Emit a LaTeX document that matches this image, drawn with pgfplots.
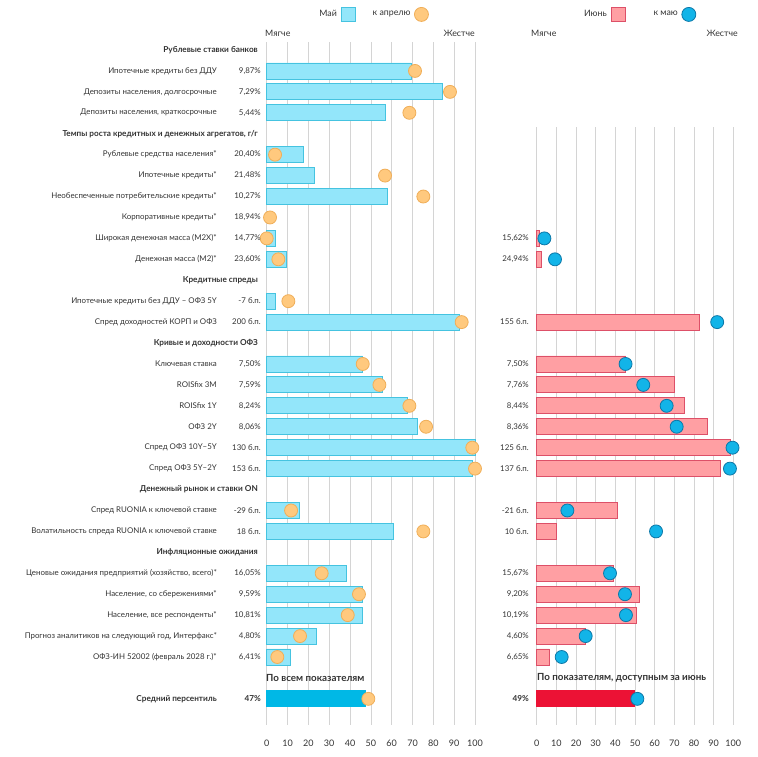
\documentclass[border=0pt]{standalone}
\usepackage{fontspec}
\setmainfont{Lato}
\usepackage{pgfplots}
\usepackage{pgfplotstable}
\pgfplotsset{compat=1.18}

\definecolor{txt}{HTML}{333333}
\definecolor{gridgray}{HTML}{D4D4D4}
\definecolor{cyanfill}{HTML}{93E6FA}
\definecolor{cyanedge}{HTML}{45C3E0}
\definecolor{cyanmean}{HTML}{00B8E6}
\definecolor{orfill}{HTML}{FFC97E}
\definecolor{oredge}{HTML}{F0AE58}
\definecolor{pinkfill}{HTML}{FF9FA3}
\definecolor{pinkedge}{HTML}{DD5068}
\definecolor{redmean}{HTML}{EC1235}
\definecolor{bluefill}{HTML}{12B4E8}
\definecolor{blueedge}{HTML}{0C78A8}

% row, May percentile, April percentile
\pgfplotstableread{
row bar dot
1 69.3 71.2
2 84.5 88.0
3 56.8 68.5
5 17.6 4.0
6 22.9 56.8
7 58.1 75.2
8 nan 1.6
9 4.1 0.0
10 9.3 5.6
12 4.0 10.4
13 92.3 93.6
15 46.1 46.1
16 55.5 54.1
17 67.4 68.5
18 72.5 76.5
19 100.0 98.7
20 98.9 100.0
22 15.7 11.7
23 60.8 75.2
25 38.4 26.4
26 45.9 44.3
27 46.1 38.9
28 24.0 16.0
29 11.3 5.1
}\maytab

% row, June percentile, May percentile
\pgfplotstableread{
row bar dot
9 1.4 3.9
10 2.5 9.3
13 82.7 91.8
15 45.2 45.2
16 70.0 54.2
17 75.0 66.1
18 86.7 71.2
19 98.6 99.6
20 93.3 98.3
22 41.2 15.6
23 10.2 60.7
25 39.0 37.3
26 52.0 44.9
27 50.5 45.4
28 24.9 24.9
29 6.4 12.7
}\juntab

\newcommand{\fnt}{\fontsize{7.9}{9}\selectfont}
\newcommand{\fntb}{\fontsize{8.2}{9}\selectfont\bfseries}
\newcommand{\fntbig}{\fontsize{9.8}{11}\selectfont\bfseries}
\newcommand{\fntlg}{\fontsize{8.8}{10}\selectfont}

\newcommand{\row}[4]{%
  \pgfmathsetmacro\yy{-(50+20.93*#1)}
  \node[lab] at (217pt,\yy pt) {#2};
  \node[lab] at (261pt,\yy pt) {#3};
  \node[lab] at (529pt,\yy pt) {#4};}
\newcommand{\head}[2]{%
  \pgfmathsetmacro\yy{-(50+20.93*#1)}
  \node[hd] at (258pt,\yy pt) {#2};}

\pgfplotsset{
  panel/.style={
    scale only axis, xmin=0, xmax=100, y dir=reverse, ymax=32.25,
    xtick={0,10,...,100}, ytick=\empty,
    xmajorgrids, major grid style={line width=0.6pt, gridgray},
    axis line style={draw=none}, major tick length=0pt,
    xticklabel style={font=\fontsize{9}{10}\selectfont, text=txt, yshift=-11pt},
    /pgf/number format/assume math mode=true,
    clip=false,
    legend plot pos=right,
    legend style={draw=none, fill=none, legend columns=2, font=\fntlg,
      text=txt, /tikz/every odd column/.append style={column sep=2pt}},
  },
  barsq/.style={legend image code/.code={\draw[##1] (0pt,-7pt) rectangle (14pt,7pt);}},
}

\begin{document}
\begin{tikzpicture}[lab/.style={anchor=east, inner sep=0pt, font=\fnt, text=txt},
  hd/.style={anchor=east, inner sep=0pt, font=\fntb, text=txt}]
\path (0pt,0pt) rectangle (758pt,-756pt);

\begin{axis}[panel, at={(266.7pt,-42pt)}, anchor=north west,
  width=208.3pt, height=683pt, ymin=-0.382,
  legend style={at={(axis description cs:0.51,1)}, anchor=south, yshift=18pt,
    /tikz/every even column/.append style={column sep=15pt}}]
\addlegendimage{barsq, draw=cyanedge, fill=cyanfill, line width=0.8pt}
\addlegendentry{Май}
\addlegendimage{only marks, mark=*, mark size=7pt, draw=oredge, fill=orfill, line width=0.8pt}
\addlegendentry{к апрелю}
\addplot[forget plot, xbar, bar shift=0pt, bar width=16pt, draw=cyanedge, fill=cyanfill, line width=0.8pt]
  table[x=bar, y=row] {\maytab};
\addplot[forget plot, xbar, bar shift=0pt, bar width=16pt, draw=cyanmean, fill=cyanmean, line width=0.8pt]
  coordinates {(47.2,31)};
\addplot[forget plot, only marks, mark=*, mark size=6.5pt, draw=oredge, fill=orfill, line width=0.8pt]
  table[x=dot, y=row] {\maytab};
\addplot[forget plot, only marks, mark=*, mark size=6.5pt, draw=oredge, fill=orfill, line width=0.8pt]
  coordinates {(48.8,31)};
\end{axis}

\begin{axis}[panel, at={(536.7pt,-127pt)}, anchor=north west,
  width=196.6pt, height=598pt, ymin=3.679,
  legend style={at={(axis description cs:0.52,1)}, anchor=south, yshift=103pt,
    /tikz/every even column/.append style={column sep=26pt}}]
\addlegendimage{barsq, draw=pinkedge, fill=pinkfill, line width=0.8pt}
\addlegendentry{Июнь}
\addlegendimage{only marks, mark=*, mark size=7pt, draw=blueedge, fill=bluefill, line width=0.8pt}
\addlegendentry{к маю}
\addplot[forget plot, xbar, bar shift=0pt, bar width=16pt, draw=pinkedge, fill=pinkfill, line width=0.8pt]
  table[x=bar, y=row] {\juntab};
\addplot[forget plot, xbar, bar shift=0pt, bar width=16pt, draw=redmean, fill=redmean, line width=0.8pt]
  coordinates {(49.5,31)};
\addplot[forget plot, only marks, mark=*, mark size=6.5pt, draw=blueedge, fill=bluefill, line width=0.8pt]
  table[x=dot, y=row] {\juntab};
\addplot[forget plot, only marks, mark=*, mark size=6.5pt, draw=blueedge, fill=bluefill, line width=0.8pt]
  coordinates {(51.2,31)};
\end{axis}

% direction labels
\node[anchor=west, inner sep=0pt, font=\fntlg, text=txt] at (265pt,-33pt) {Мягче};
\node[anchor=east, inner sep=0pt, font=\fntlg, text=txt] at (475pt,-33pt) {Жестче};
\node[anchor=west, inner sep=0pt, font=\fntlg, text=txt] at (531pt,-33pt) {Мягче};
\node[anchor=east, inner sep=0pt, font=\fntlg, text=txt] at (738pt,-33pt) {Жестче};

\head{0}{Рублевые ставки банков}
\row{1}{Ипотечные кредиты без ДДУ}{9,87\%}{}
\row{2}{Депозиты населения, долгосрочные}{7,29\%}{}
\row{3}{Депозиты населения, краткосрочные}{5,44\%}{}
\head{4}{Темпы роста кредитных и денежных агрегатов, г/г}
\row{5}{Рублевые средства населения*}{20,40\%}{}
\row{6}{Ипотечные кредиты*}{21,48\%}{}
\row{7}{Необеспеченные потребительские кредиты*}{10,27\%}{}
\row{8}{Корпоративные кредиты*}{18,94\%}{}
\row{9}{Широкая денежная масса (М2Х)*}{14,77\%}{15,62\%}
\row{10}{Денежная масса (М2)*}{23,60\%}{24,94\%}
\head{11}{Кредитные спреды}
\row{12}{Ипотечные кредиты без ДДУ – ОФЗ 5Y}{-7 б.п.}{}
\row{13}{Спред доходностей КОРП и ОФЗ}{200 б.п.}{155 б.п.}
\head{14}{Кривые и доходности ОФЗ}
\row{15}{Ключевая ставка}{7,50\%}{7,50\%}
\row{16}{ROISfix 3M}{7,59\%}{7,76\%}
\row{17}{ROISfix 1Y}{8,24\%}{8,44\%}
\row{18}{ОФЗ 2Y}{8,06\%}{8,36\%}
\row{19}{Спред ОФЗ 10Y–5Y}{130 б.п.}{125 б.п.}
\row{20}{Спред ОФЗ 5Y–2Y}{153 б.п.}{137 б.п.}
\head{21}{Денежный рынок и ставки ON}
\row{22}{Спред RUONIA к ключевой ставке}{-29 б.п.}{-21 б.п.}
\row{23}{Волатильность спреда RUONIA к ключевой ставке}{18 б.п.}{10 б.п.}
\head{24}{Инфляционные ожидания}
\row{25}{Ценовые ожидания предприятий (хозяйство, всего)*}{16,05\%}{15,67\%}
\row{26}{Население, со сбережениями*}{9,59\%}{9,20\%}
\row{27}{Население, все респонденты*}{10,81\%}{10,19\%}
\row{28}{Прогноз аналитиков на следующий год, Интерфакс*}{4,80\%}{4,60\%}
\row{29}{ОФЗ-ИН 52002 (февраль 2028 г.)*}{6,41\%}{6,65\%}

\pgfmathsetmacro\yy{-(50+20.93*30)}
\node[anchor=west, inner sep=0pt, font=\fntbig, text=txt] at (266pt,\yy pt) {По всем показателям};
\node[anchor=west, inner sep=0pt, font=\fntbig, text=txt] at (537pt,\yy pt) {По показателям, доступным за июнь};
\pgfmathsetmacro\yy{-(50+20.93*31)}
\node[hd] at (217pt,\yy pt) {Средний персентиль};
\node[hd] at (261pt,\yy pt) {47\%};
\node[hd] at (529pt,\yy pt) {49\%};
\end{tikzpicture}
\end{document}
